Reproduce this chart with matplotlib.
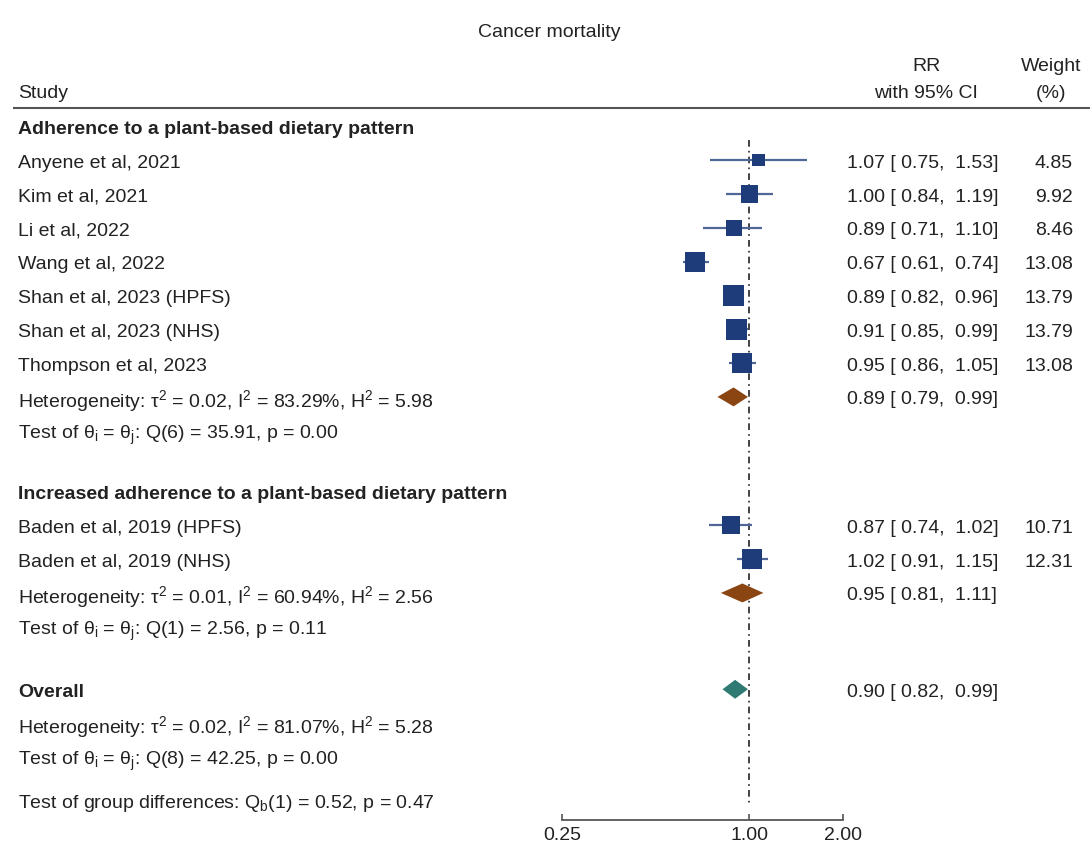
"""Forest plot: cancer mortality. Salida: out.png"""
import numpy as np
import matplotlib
matplotlib.use("Agg")
import matplotlib.pyplot as plt
from matplotlib.transforms import blended_transform_factory
from matplotlib.lines import Line2D

# --- datos ---
grupo1 = "Adherence to a plant-based dietary pattern"
estudios1 = ["Anyene et al, 2021", "Kim et al, 2021", "Li et al, 2022", "Wang et al, 2022",
             "Shan et al, 2023 (HPFS)", "Shan et al, 2023 (NHS)", "Thompson et al, 2023"]
rr1 = [1.07, 1.00, 0.89, 0.67, 0.89, 0.91, 0.95]
lo1 = [0.75, 0.84, 0.71, 0.61, 0.82, 0.85, 0.86]
hi1 = [1.53, 1.19, 1.10, 0.74, 0.96, 0.99, 1.05]
peso1 = [4.85, 9.92, 8.46, 13.08, 13.79, 13.79, 13.08]
pool1 = [0.89, 0.79, 0.99]
het1 = ["0.02", "83.29%", "5.98"]
q1 = ["6", "35.91", "0.00"]

grupo2 = "Increased adherence to a plant-based dietary pattern"
estudios2 = ["Baden et al, 2019 (HPFS)", "Baden et al, 2019 (NHS)"]
rr2 = [0.87, 1.02]
lo2 = [0.74, 0.91]
hi2 = [1.02, 1.15]
peso2 = [10.71, 12.31]
pool2 = [0.95, 0.81, 1.11]
het2 = ["0.01", "60.94%", "2.56"]
q2 = ["1", "2.56", "0.11"]

total = [0.90, 0.82, 0.99]
het_tot = ["0.02", "81.07%", "5.28"]
q_tot = ["8", "42.25", "0.00"]
qb = ["1", "0.52", "0.47"]
ticks = [0.25, 1.00, 2.00]

NAVY, CI, MARRON, TEAL, TXT = "#1f3c7a", "#4f6696", "#8b4513", "#2f7a72", "#222222"
W, H = 1090, 845
FS = 14

plt.rcParams.update({"font.family": ["Liberation Sans", "DejaVu Sans"],
                     "mathtext.fontset": "custom", "mathtext.rm": "Liberation Sans",
                     "mathtext.default": "regular", "font.size": FS})

fig = plt.figure(figsize=(W / 100, H / 100), dpi=100)
fila = 33.8          # px por fila
y_top, y_eje = 127.5, 821
ax = fig.add_axes([562 / W, (H - y_eje) / H, 281 / W, y_eje / H])
ax.set_ylim((y_eje - y_top) / fila, -y_top / fila)
ax.set_xscale("log", base=2)
ax.set_xlim(ticks[0], ticks[-1])
for s in ("left", "top", "right"):
    ax.spines[s].set_visible(False)
ax.spines["bottom"].set_color("#555555")
ax.spines["bottom"].set_linewidth(1.3)
ax.set_yticks([])
ax.set_xticks(ticks)
ax.set_xticklabels([f"{t:.2f}" for t in ticks], fontsize=FS, color=TXT)
ax.minorticks_off()
ax.tick_params(axis="x", direction="in", length=4.5, width=1.2, color="#555555", pad=4)
ax.patch.set_visible(False)

tx = blended_transform_factory(fig.transFigure, ax.transData)


def texto(x_px, y, s, ha="left", bold=False):
    ax.text(x_px / W, y, s, transform=tx, ha=ha, va="center_baseline", fontsize=FS,
            color=TXT, fontweight="bold" if bold else "normal", clip_on=False)


def ic(y, est, lo, hi):
    texto(847, y, f"{est:.2f} [ {lo:.2f},  {hi:.2f}]")


def diamante(y, est, lo, hi, color):
    h = 0.28
    ax.fill([lo, est, hi, est], [y, y - h, y, y + h], color=color, lw=0, clip_on=False, zorder=3)


def grupo(y0, nombre, estudios, rr, lo, hi, peso, pool, het, q):
    texto(18, y0, nombre, bold=True)
    ys = y0 + 1 + np.arange(len(estudios))
    for y, e, r, l, u, p in zip(ys, estudios, rr, lo, hi, peso):
        texto(18, y, e)
        ic(y, r, l, u)
        texto(1073, y, f"{p:.2f}", ha="right")
    ax.hlines(ys, lo, hi, color=CI, lw=1.6, clip_on=False, zorder=2)
    lado = 5.5 * np.sqrt(peso) * 0.72
    ax.scatter(rr, ys, s=lado ** 2, marker="s", color=NAVY, lw=0, clip_on=False, zorder=3)
    yh = ys[-1] + 1
    texto(18, yh, f"Heterogeneity: τ$^2$ = {het[0]}, I$^2$ = {het[1]}, H$^2$ = {het[2]}")
    ic(yh, *pool)
    diamante(yh, *pool, MARRON)
    texto(18, yh + 1, f"Test of θ$_i$ = θ$_j$: Q({q[0]}) = {q[1]}, p = {q[2]}")
    return yh + 1


fin1 = grupo(0, grupo1, estudios1, rr1, lo1, hi1, peso1, pool1, het1, q1)
fin2 = grupo(fin1 + 1.8, grupo2, estudios2, rr2, lo2, hi2, peso2, pool2, het2, q2)

yo = fin2 + 1.85
texto(18, yo, "Overall", bold=True)
ic(yo, *total)
diamante(yo, *total, TEAL)
texto(18, yo + 1, f"Heterogeneity: τ$^2$ = {het_tot[0]}, I$^2$ = {het_tot[1]}, H$^2$ = {het_tot[2]}")
texto(18, yo + 2, f"Test of θ$_i$ = θ$_j$: Q({q_tot[0]}) = {q_tot[1]}, p = {q_tot[2]}")
texto(18, yo + 3.25, f"Test of group differences: Q$_b$({qb[0]}) = {qb[1]}, p = {qb[2]}")

# línea de no efecto
ax.plot([1, 1], [0.4, yo + 3.35], color="#222222", lw=1.2, dashes=(4, 2.5, 1, 2.5),
        clip_on=False, zorder=1)

# cabecera
texto(549, -2.88, "Cancer mortality", ha="center")
texto(926, -1.85, "RR", ha="center")
texto(926, -1.07, "with 95% CI", ha="center")
texto(1051, -1.85, "Weight", ha="center")
texto(1051, -1.07, "(%)", ha="center")
texto(18, -1.07, "Study")
fig.add_artist(Line2D([14 / W, 1.0], [-0.55, -0.55], transform=tx, color="#555555", lw=1.5))

fig.savefig("out.png", dpi=100, facecolor="white")
print("OK: out.png")
